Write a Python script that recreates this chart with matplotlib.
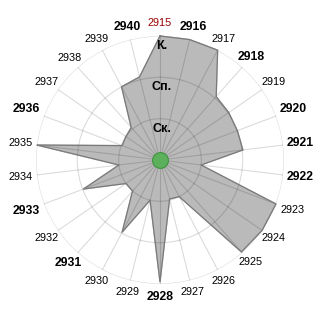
import matplotlib
matplotlib.use('Agg')
import matplotlib.pyplot as plt
import numpy as np

plt.rcParams['font.family'] = ['Liberation Sans', 'DejaVu Sans']

# categories going clockwise from the top
labels = ['2915', '2916', '2917', '2918', '2919', '2920', '2921', '2922', '2923',
          '2924', '2925', '2926', '2927', '2928', '2929', '2930', '2931', '2932',
          '2933', '2934', '2935', '2936', '2937', '2938', '2939', '2940']
values = [3.0, 3.0, 3.0, 2.05, 2.02, 2.0, 2.02, 1.0, 3.0,
          3.0, 2.97, 1.0, 0.97, 2.95, 1.0, 1.97, 1.0, 1.0,
          1.98, 1.0, 3.0, 0.98, 1.0, 1.05, 2.0, 2.07]
bold_labels = ['2916', '2918', '2920', '2921', '2922', '2928', '2931', '2933', '2936', '2940']
red_labels = ['2915']
ring_values = [1, 2, 3]
ring_names = ['Ск.', 'Сп.', 'К.']

n = len(labels)
theta = np.arange(n) * 2 * np.pi / n

fig = plt.figure(figsize=(3.2, 3.2), dpi=100)
ax = fig.add_axes([0.1125, 0.1125, 0.775, 0.775], projection='polar')
ax.set_theta_zero_location('N')
ax.set_theta_direction(-1)
ax.set_ylim(0, 3)

ax.set_xticks(theta)
ax.set_xticklabels([])
ax.set_yticks(ring_values)
ax.set_yticklabels([])
ax.grid(True, color='black', alpha=0.14, linewidth=0.8)
ax.set_axisbelow(False)
ax.spines['polar'].set_visible(False)
ax.tick_params(length=0)

# filled polygon
th = np.append(theta, theta[0])
vv = np.append(values, values[0])
ax.fill(th, vv, color='#bababa', zorder=1, clip_on=False)
ax.plot(th, vv, color='#7a7a7a', linewidth=0.9, zorder=3, clip_on=False)

# green centre marker
ax.scatter([0], [0], s=130, color='#5cb05c', edgecolor='#3f943f', linewidth=0.8, zorder=5)

# ring names, just inside each ring
for rv, nm in zip(ring_values, ring_names):
    ax.annotate(nm, xy=(0, rv), xytext=(2, -10), textcoords='offset pixels',
                ha='center', va='center', fontsize=9, fontweight='bold', zorder=6)

# category labels placed around the outer circle
texts = []
for lab, t in zip(labels, theta):
    weight = 'bold' if lab in bold_labels else 'normal'
    size = 8.8 if lab in bold_labels else 7.8
    col = '#990000' if lab in red_labels else 'black'
    txt = fig.text(0, 0, lab, ha='center', va='center', fontsize=size,
                   fontweight=weight, color=col)
    texts.append((txt, t))

fig.canvas.draw()
renderer = fig.canvas.get_renderer()
cx, cy = ax.transData.transform((0, 0))
rx, ry = ax.transData.transform((0, 3))
R = np.hypot(rx - cx, ry - cy) + 4
W, H = fig.canvas.get_width_height()
for txt, t in texts:
    bb = txt.get_window_extent(renderer)
    sx, sy = np.sin(t), np.cos(t)
    d = min((bb.width / 2) / max(abs(sx), 1e-6), (bb.height / 2) / max(abs(sy), 1e-6))
    dist = R + d + 3.5 * sy ** 2
    px = cx + dist * sx
    py = cy + dist * sy
    txt.set_position((px / W, py / H))

fig.savefig('out.png', dpi=100)
